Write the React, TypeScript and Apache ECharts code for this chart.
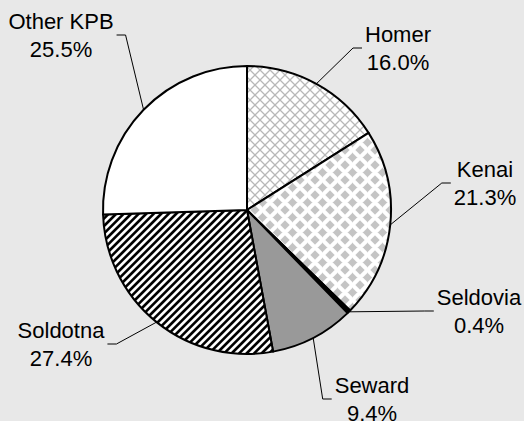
import { useEffect, useRef } from 'react';
import * as echarts from 'echarts';

const categories = ['Homer', 'Kenai', 'Seldovia', 'Seward', 'Soldotna', 'Other KPB'];
const shares = [16.0, 21.3, 0.4, 9.4, 27.4, 25.5];
// label block centres (layout only)
const labelCenters: number[][] = [
  [398, 48],
  [485, 183],
  [479, 311],
  [372, 399],
  [61, 344],
  [61, 35],
];

const clamp = (v: number) => Math.max(0, Math.min(1, v));

function makeTile(size: number, shade: (x: number, y: number) => number[]) {
  const c = document.createElement('canvas');
  c.width = size;
  c.height = size;
  const ctx = c.getContext('2d')!;
  const img = ctx.createImageData(size, size);
  for (let y = 0; y < size; y++) {
    for (let x = 0; x < size; x++) {
      const [r, g, b] = shade(x + 0.5, y + 0.5);
      const i = (y * size + x) * 4;
      img.data[i] = r;
      img.data[i + 1] = g;
      img.data[i + 2] = b;
      img.data[i + 3] = 255;
    }
  }
  ctx.putImageData(img, 0, 0);
  return c;
}

const mix = (cov: number, fg: number) => {
  const v = Math.round(255 * (1 - cov) + fg * cov);
  return [v, v, v];
};

function crosshatch() {
  const P = 10;
  return makeTile(P, (x, y) => {
    const a = (x + y) % P;
    const d1 = Math.min(a, P - a) / Math.SQRT2;
    const b = (((x - y) % P) + P) % P;
    const d2 = Math.min(b, P - b) / Math.SQRT2;
    const cov = Math.max(clamp(0.65 + 0.5 - d1), clamp(0.65 + 0.5 - d2));
    return mix(cov, 0xb8);
  });
}

function diamonds() {
  const P = 15;
  const h = 4.6;
  const centers = [[0, 0], [P, 0], [0, P], [P, P], [P / 2, P / 2]];
  return makeTile(P, (x, y) => {
    let d = Infinity;
    for (const [cx, cy] of centers) d = Math.min(d, Math.abs(x - cx) + Math.abs(y - cy));
    const cov = clamp((h - d) / Math.SQRT2 + 0.5);
    return mix(cov, 0xc4);
  });
}

function stripes() {
  const S = 15;
  const P = 7.5;
  const hw = P / Math.SQRT2 / 4;
  return makeTile(S, (x, y) => {
    const a = (x + y) % P;
    const d = Math.min(a, P - a) / Math.SQRT2;
    const cov = clamp(hw - d + 0.5);
    return mix(cov, 0);
  });
}

export default function App() {
  const ref = useRef<HTMLDivElement>(null);
  useEffect(() => {
    if (!ref.current) return;
    const chart = echarts.init(ref.current, undefined, { renderer: 'svg' });
    const fills: any[] = [
      { image: crosshatch(), repeat: 'repeat' },
      { image: diamonds(), repeat: 'repeat' },
      '#000000',
      '#999999',
      { image: stripes(), repeat: 'repeat' },
      '#ffffff',
    ];
    const data = categories.map((name, i) => ({
      name,
      value: shares[i],
      itemStyle: { color: fills[i] },
    }));
    chart.setOption({
      animation: false,
      backgroundColor: '#e8e8e8',
      series: [
        {
          type: 'pie',
          center: [247, 210],
          radius: 144,
          startAngle: 90,
          clockwise: true,
          avoidLabelOverlap: false,
          silent: true,
          data,
          itemStyle: { borderColor: '#000', borderWidth: 2 },
          label: {
            show: true,
            position: 'outside',
            formatter: (p: any) => `${p.name}\n${Number(p.value).toFixed(1)}%`,
            fontFamily: '"Liberation Sans", Arial, sans-serif',
            fontSize: 22,
            lineHeight: 28,
            color: '#000',
            align: 'center',
          },
          labelLine: {
            show: true,
            length: 10,
            length2: 8,
            smooth: false,
            lineStyle: { color: '#000', width: 1 },
          },
          labelLayout: (params: any) => {
            const [x, y] = labelCenters[params.dataIndex];
            const w = params.labelRect.width;
            const leftSide = x > 247;
            const sideX = leftSide ? x - w / 2 - 3 : x + w / 2 + 3;
            const midX = leftSide ? sideX - 9 : sideX + 9;
            const edge = params.labelLinePoints ? params.labelLinePoints[0] : [sideX, y];
            return {
              x,
              y,
              align: 'center',
              verticalAlign: 'middle',
              labelLinePoints: [edge, [midX, y], [sideX, y]],
            };
          },
        },
      ],
    });
    return () => chart.dispose();
  }, []);
  return (
    <div
      ref={ref}
      style={{ position: 'fixed', left: 0, top: 0, width: 524, height: 421 }}
    />
  );
}
